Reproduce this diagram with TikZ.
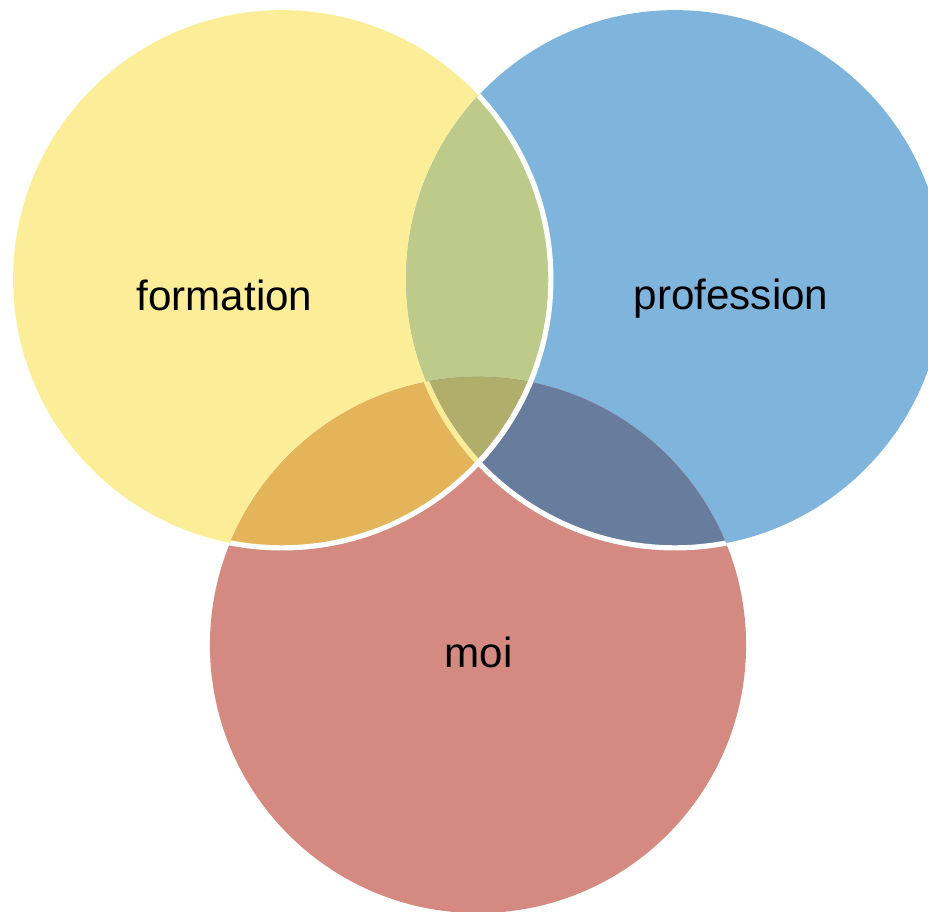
\documentclass[tikz,border=0pt]{standalone}
\usepackage{fontspec}
\setmainfont{Liberation Sans}
\definecolor{formyellow}{RGB}{252,238,152}
\definecolor{profblue}{RGB}{127,181,220}
\definecolor{moired}{RGB}{212,138,128}
\definecolor{fpgreen}{RGB}{190,202,138}
\definecolor{fmorange}{RGB}{228,180,90}
\definecolor{pmnavy}{RGB}{104,125,157}
\definecolor{allolive}{RGB}{176,174,106}
\definecolor{rimyellow}{RGB}{250,236,150}

\begin{document}
\begin{tikzpicture}[x=0.025cm,y=-0.025cm,
  rim/.style={draw=white,line width=0.13cm},
  lbl/.style={inner sep=0pt,anchor=base,font=\fontsize{30}{36}\selectfont}]
\useasboundingbox (0,0) rectangle (928,912);
\coordinate (F) at (282,279);
\coordinate (P) at (675,279);
\coordinate (M) at (478,645);
\fill[formyellow] (F) circle[radius=6.72cm];
\fill[profblue] (P) circle[radius=6.72cm];
\fill[moired] (M) circle[radius=6.7cm];
\begin{scope}
\clip (F) circle[radius=6.72cm];
\fill[fpgreen] (P) circle[radius=6.72cm];
\fill[fmorange] (M) circle[radius=6.7cm];
\end{scope}
\begin{scope}
\clip (P) circle[radius=6.72cm];
\fill[pmnavy] (M) circle[radius=6.7cm];
\clip (F) circle[radius=6.72cm];
\fill[allolive] (M) circle[radius=6.7cm];
\end{scope}
\begin{scope}
\clip (M) circle[radius=6.7cm];
\draw[rim] (P) circle[radius=6.72cm];
\clip (F) circle[radius=6.72cm];
\draw[rim,draw=rimyellow] (P) circle[radius=6.72cm];
\end{scope}
\begin{scope}
\clip (P) circle[radius=6.72cm];
\draw[rim] (F) circle[radius=6.72cm];
\end{scope}
\begin{scope}
\clip (M) circle[radius=6.7cm];
\draw[rim] (F) circle[radius=6.72cm];
\end{scope}
\node[lbl] (formation) at (224.5,310.7) {formation};
\node[lbl] (profession) at (731,310) {profession};
\node[lbl] (moi) at (478.5,667.7) {moi};
\end{tikzpicture}
\end{document}
